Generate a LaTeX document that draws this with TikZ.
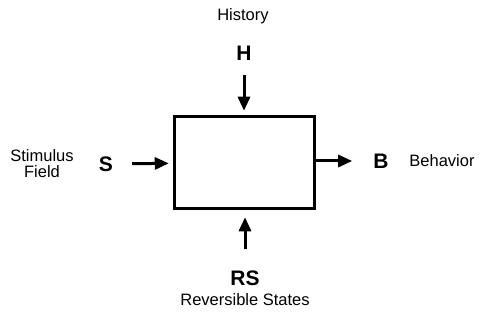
\documentclass[tikz,border=0pt]{standalone}
\usepackage{fontspec}
\setmainfont{Liberation Sans}
\usepackage{xcolor}
\usetikzlibrary{arrows.meta,positioning}

\begin{document}
\begin{tikzpicture}[x=1pt,y=-1pt,
  lbl/.style={font=\fontsize{16.5}{18}\selectfont,align=center,inner sep=0pt},
  sym/.style={font=\fontsize{21}{23}\selectfont\bfseries,inner sep=0pt},
  arr/.style={-{Triangle[length=14pt,width=12pt]},line width=3pt}]
\useasboundingbox (0,0) rectangle (480,321);
% The central box.
\node[draw,line width=3.5pt,minimum width=140pt,minimum height=92pt,inner sep=0pt]
  (box) at (244.5,162.5) {};

% Inputs and output.
\node[sym] (S) at (106,164) {S};
\node[sym] (H) at (244,53) {H};
\node[sym] (B) at (381,161) {B};
\node[sym] (RS) at (245,278) {RS};

\node[lbl] (stim) at (42,164) {Stimulus\\[-2pt]Field};
\node[lbl] (hist) at (243,16) {History};
\node[lbl] (behav) at (442,161) {Behavior};
\node[lbl] (rev) at (245,300) {Reversible States};

\draw[arr,shorten <=19pt,shorten >=4pt] (S) -- (box);
\draw[arr,shorten <=15pt,shorten >=4pt] (H) -- (box.north -| H);
\draw[arr,shorten <=0pt,shorten >=21pt] (box.east |- B) -- (B);
\draw[arr,shorten <=21pt,shorten >=7pt] (RS) -- (box.south -| RS);
\end{tikzpicture}
\end{document}
